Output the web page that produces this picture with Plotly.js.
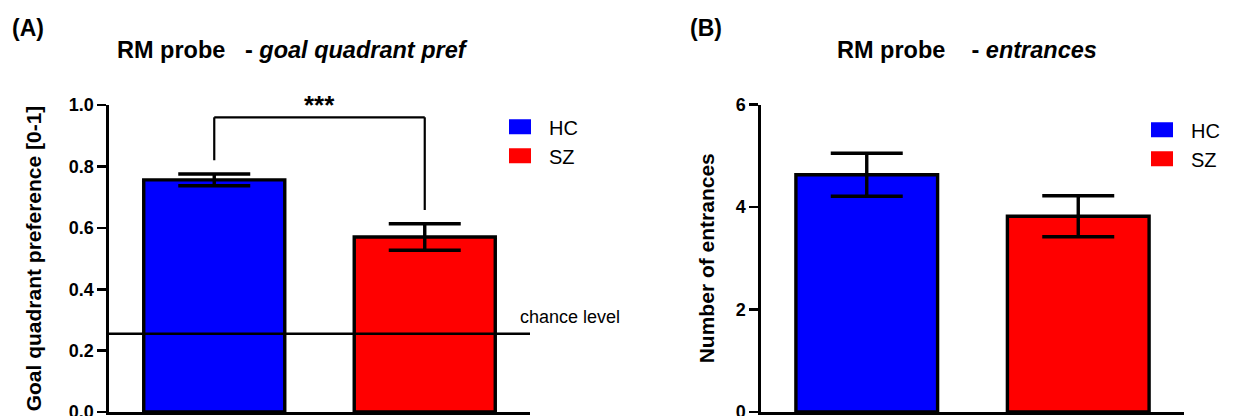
<!DOCTYPE html>
<html>
<head>
<meta charset="utf-8">
<script src="https://cdn.plot.ly/plotly-3.0.1.min.js"></script>
<style>
  html, body { margin: 0; padding: 0; background: #ffffff; }
  #chart { width: 1233px; height: 416px; }
</style>
</head>
<body>
<div id="chart"></div>
<script>
// ---- data ----
const groups = ['HC', 'SZ'];
const groupColors = ['#0000ff', '#ff0000'];
const groupX = [0, 1];

const prefMean = [0.756, 0.570];
const prefSem = [0.019, 0.043];
const chanceLevel = 0.255;

const entrMean = [4.63, 3.82];
const entrSem = [0.42, 0.40];

const prefTickVals = [0, 0.2, 0.4, 0.6, 0.8, 1.0];
const prefTickText = ['0.0', '0.2', '0.4', '0.6', '0.8', '1.0'];
const entrTickVals = [0, 2, 4, 6];
const entrTickText = ['0', '2', '4', '6'];

const sigLabel = '***';
const bracketLevel = 0.96;

// ---- style ----
const FONT = 'Liberation Sans, Arial, Helvetica, sans-serif';
const BAR_W = 0.67;
const LINE_W = 3.4;

const data = [];
groups.forEach((g, i) => {
  data.push({
    type: 'bar', x: [groupX[i]], y: [prefMean[i]], width: [BAR_W],
    xaxis: 'x', yaxis: 'y', name: g, legend: 'legend', legendgroup: 'a' + i,
    marker: { color: groupColors[i], line: { color: '#000', width: LINE_W } },
    error_y: { type: 'data', array: [prefSem[i]], color: '#000', thickness: LINE_W, width: 36 },
    hoverinfo: 'skip'
  });
});
groups.forEach((g, i) => {
  data.push({
    type: 'bar', x: [groupX[i]], y: [entrMean[i]], width: [BAR_W],
    xaxis: 'x2', yaxis: 'y2', name: g, legend: 'legend2', legendgroup: 'b' + i,
    marker: { color: groupColors[i], line: { color: '#000', width: LINE_W } },
    error_y: { type: 'data', array: [entrSem[i]], color: '#000', thickness: LINE_W, width: 36 },
    hoverinfo: 'skip'
  });
});

const bracketGap = 0.045;
const leftEnd = prefMean[0] + prefSem[0] + bracketGap;
const rightEnd = prefMean[1] + prefSem[1] + bracketGap;

const bold = arr => arr.map(t => '<b>' + t + '</b>');

const yAxisCommon = {
  showline: true, linecolor: '#000', linewidth: 2.6,
  ticks: 'outside', ticklen: 9, tickwidth: 2.6, tickcolor: '#000',
  showgrid: false, zeroline: false,
  tickfont: { family: FONT, size: 18, color: '#000' },
  ticklabeloverflow: 'allow',
  automargin: false
};
const xAxisCommon = {
  showline: true, linecolor: '#000', linewidth: 2.6,
  ticks: '', showticklabels: false, showgrid: false, zeroline: false,
  range: [-0.5, 1.5], fixedrange: true
};

const layout = {
  width: 1233, height: 416,
  margin: { l: 0, r: 0, t: 0, b: 0 },
  paper_bgcolor: '#ffffff', plot_bgcolor: 'rgba(0,0,0,0)',
  barmode: 'overlay',
  font: { family: FONT, color: '#000' },
  xaxis: Object.assign({}, xAxisCommon, { domain: [109 / 1233, 530 / 1233], anchor: 'y' }),
  yaxis: Object.assign({}, yAxisCommon, {
    domain: [4 / 416, 311 / 416], anchor: 'x', range: [0, 1.0],
    tickvals: prefTickVals, ticktext: bold(prefTickText),
    title: { text: '<b>Goal quadrant preference [0-1]</b>', font: { family: FONT, size: 21, color: '#000' }, standoff: 22 }
  }),
  xaxis2: Object.assign({}, xAxisCommon, { domain: [761 / 1233, 1184 / 1233], anchor: 'y2' }),
  yaxis2: Object.assign({}, yAxisCommon, {
    domain: [4 / 416, 311.5 / 416], anchor: 'x2', range: [0, 6],
    tickvals: entrTickVals, ticktext: bold(entrTickText),
    title: { text: '<b>Number of entrances</b>', font: { family: FONT, size: 21, color: '#000' }, standoff: 16 }
  }),
  showlegend: true,
  legend: {
    x: 509 / 1233, y: 0.742, xanchor: 'left', yanchor: 'top',
    font: { family: FONT, size: 20, color: '#000' }, bgcolor: 'rgba(0,0,0,0)',
    tracegroupgap: 5, traceorder: 'normal'
  },
  legend2: {
    x: 1151 / 1233, y: 0.735, xanchor: 'left', yanchor: 'top',
    font: { family: FONT, size: 20, color: '#000' }, bgcolor: 'rgba(0,0,0,0)',
    tracegroupgap: 5, traceorder: 'normal'
  },
  shapes: [
    { type: 'line', xref: 'x', yref: 'y', x0: -0.5, x1: 1.5, y0: chanceLevel, y1: chanceLevel,
      line: { color: '#000', width: 2.4 }, layer: 'above' },
    { type: 'line', xref: 'x', yref: 'y', x0: groupX[0], x1: groupX[0], y0: leftEnd, y1: bracketLevel,
      line: { color: '#000', width: 2.2 } },
    { type: 'line', xref: 'x', yref: 'y', x0: groupX[0], x1: groupX[1], y0: bracketLevel, y1: bracketLevel,
      line: { color: '#000', width: 2.2 } },
    { type: 'line', xref: 'x', yref: 'y', x0: groupX[1], x1: groupX[1], y0: rightEnd, y1: bracketLevel,
      line: { color: '#000', width: 2.2 } }
  ],
  annotations: [
    { text: '<b>(A)</b>', xref: 'paper', yref: 'paper', x: 10 / 1233, y: (416 - 28) / 416,
      xanchor: 'left', yanchor: 'middle', showarrow: false, font: { family: FONT, size: 23, color: '#000' } },
    { text: '<b>(B)</b>', xref: 'paper', yref: 'paper', x: 688 / 1233, y: (416 - 28) / 416,
      xanchor: 'left', yanchor: 'middle', showarrow: false, font: { family: FONT, size: 23, color: '#000' } },
    { text: '<b>RM probe\u00a0\u00a0 - <i>goal quadrant pref</i></b>', xref: 'paper', yref: 'paper',
      x: 292 / 1233, y: (416 - 50) / 416, xanchor: 'center', yanchor: 'middle', showarrow: false,
      font: { family: FONT, size: 23.5, color: '#000' } },
    { text: '<b>RM probe\u00a0\u00a0\u00a0 - <i>entrances</i></b>', xref: 'paper', yref: 'paper',
      x: 967 / 1233, y: (416 - 50) / 416, xanchor: 'center', yanchor: 'middle', showarrow: false,
      font: { family: FONT, size: 23.5, color: '#000' } },
    { text: '<b>' + sigLabel + '</b>', xref: 'x', yref: 'y', x: (groupX[0] + groupX[1]) / 2, y: 1.0,
      xanchor: 'center', yanchor: 'middle', showarrow: false,
      font: { family: FONT, size: 26, color: '#000' } },
    { text: 'chance level', xref: 'x', yref: 'y', x: 1.445, y: chanceLevel,
      xanchor: 'left', yanchor: 'middle', yshift: 17, showarrow: false,
      font: { family: FONT, size: 18, color: '#000' } }
  ]
};

Plotly.newPlot('chart', data, layout, { staticPlot: true, displayModeBar: false }).then(gd => {
  gd.querySelectorAll('.legendpoints path').forEach(p => {
    p.setAttribute('d', 'M14,7.5H-14V-7.5H14Z');
    p.setAttribute('transform', 'translate(8,0)');
    p.style.strokeWidth = '0px';
  });
});
</script>
</body>
</html>
